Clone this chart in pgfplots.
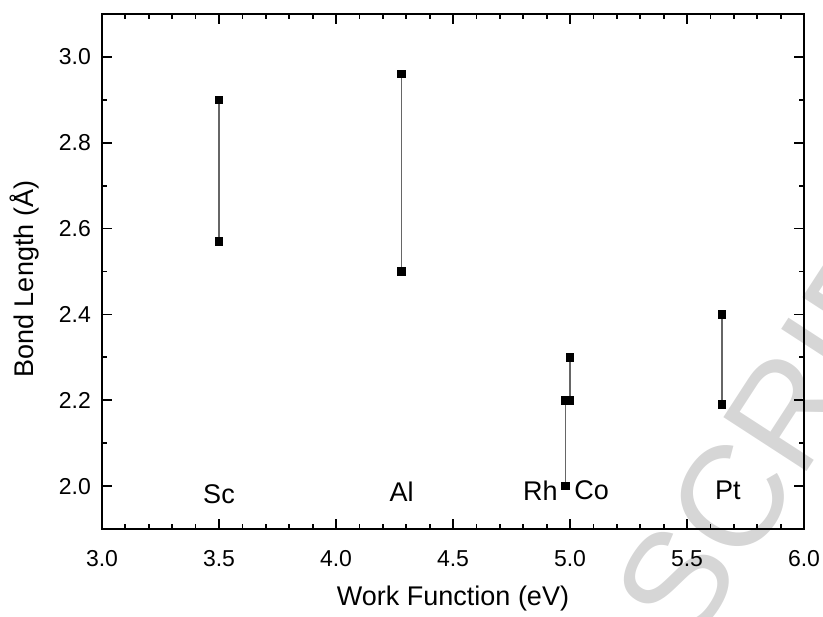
\documentclass[border=0pt]{standalone}
\usepackage{pgfplots}
\pgfplotsset{compat=1.18}
\usepackage{fontspec}
\setmainfont{Liberation Sans}
\tikzset{seg/.style={black!60, line width=0.8pt, mark=square*, mark size=1.75pt, mark options={black, fill=black, solid}}}

\begin{document}
\begin{tikzpicture}
\path[use as bounding box] (-51pt,-43.5pt) rectangle (360.5pt,264.5pt);
% watermark
\node[rotate=57, anchor=west, text=black!16, font=\fontsize{72}{72}\selectfont, inner sep=0] at (274pt,-47pt) {SCRIPT};
\begin{axis}[
    scale only axis, width=351pt, height=257.5pt,
    at={(0,0)}, anchor=south west,
    xmin=3, xmax=6, ymin=1.9, ymax=3.1,
    xtick={3,3.5,4,4.5,5,5.5,6},
    ytick={2.0,2.2,2.4,2.6,2.8,3.0},
    minor x tick num=4, minor y tick num=1,
    tick align=inside, major tick length=5pt, minor tick length=2.5pt,
    axis line style={line width=1pt},
    every tick/.style={black, line width=0.9pt},
    /pgf/number format/.cd, fixed, fixed zerofill, precision=1, assume math mode=true,
    /pgfplots/.cd,
    tick label style={font=\fontsize{11.5}{12}\selectfont},
    label style={font=\fontsize{13.5}{14}\selectfont},
    xticklabel style={anchor=center, yshift=-15pt},
    yticklabel style={anchor=east, xshift=-2pt},
    xlabel={Work Function (eV)},
    ylabel={Bond Length (Å)},
    xlabel style={at={(axis description cs:0.5,-0.134)}, anchor=center},
    ylabel style={at={(axis description cs:-0.1097,0.485)}, anchor=center},
]
\addplot[seg] coordinates {(3.5,2.57) (3.5,2.90)};
\addplot[seg] coordinates {(4.28,2.50) (4.28,2.96)};
\addplot[seg] coordinates {(4.98,2.00) (4.98,2.20)};
\addplot[seg] coordinates {(5.00,2.20) (5.00,2.30)};
\addplot[seg] coordinates {(5.65,2.19) (5.65,2.40)};
\node[font=\fontsize{13.5}{14}\selectfont, inner sep=0] at (axis cs:3.5,1.982) {Sc};
\node[font=\fontsize{13.5}{14}\selectfont, inner sep=0] at (axis cs:4.28,1.986) {Al};
\node[font=\fontsize{13.5}{14}\selectfont, inner sep=0, anchor=east] at (axis cs:4.949,1.99) {Rh};
\node[font=\fontsize{13.5}{14}\selectfont, inner sep=0, anchor=west] at (axis cs:5.017,1.99) {Co};
\node[font=\fontsize{13.5}{14}\selectfont, inner sep=0] at (axis cs:5.675,1.99) {Pt};
\end{axis}
\end{tikzpicture}
\end{document}
